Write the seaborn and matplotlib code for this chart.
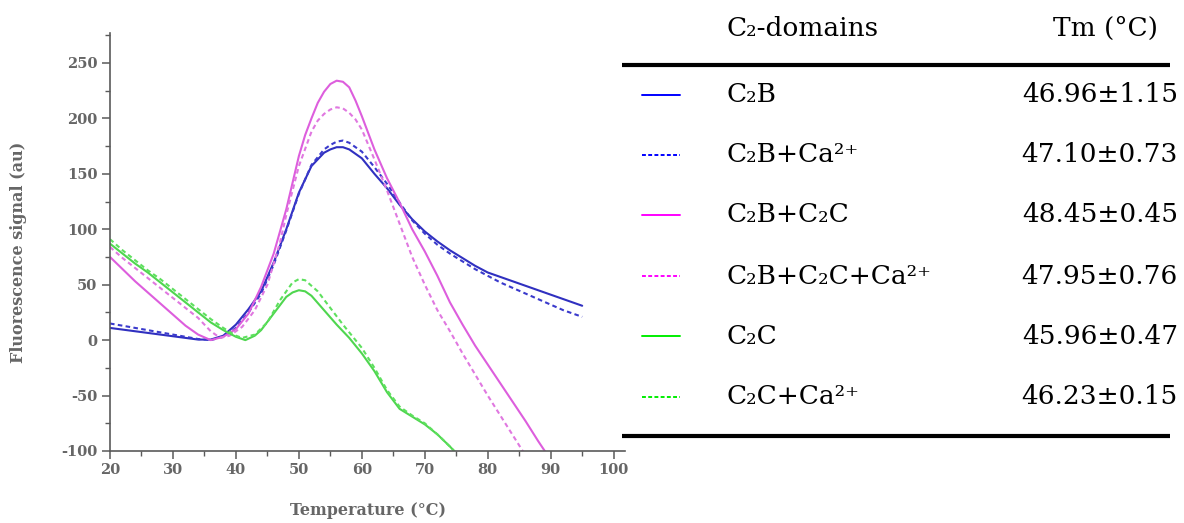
import numpy as np
import pandas as pd
import matplotlib
matplotlib.use("Agg")
import matplotlib.pyplot as plt
from matplotlib.lines import Line2D
from matplotlib.ticker import MultipleLocator
import seaborn as sns

# ---- melting curves (temperature in °C, fluorescence in au) ----
t_c2b = [20, 22, 24, 26, 28, 30, 32, 34, 36, 38, 40, 42, 44, 46, 48, 50, 52, 54, 55, 56,
         57, 58, 60, 62, 64, 66, 68, 70, 72, 74, 76, 78, 80, 82, 84, 86, 88, 90, 92, 95]
f_c2b = [11, 9.5, 8, 6.5, 5, 3.5, 2, 0.5, 0.5, 4, 14, 28, 44, 70, 100, 133, 157, 169, 172, 174,
         174, 172, 164, 150, 137, 122, 109, 98, 89, 81, 74, 67, 61, 57, 53, 49, 45, 41, 37, 31]

t_c2b_ca = t_c2b
f_c2b_ca = [15, 13, 11, 9, 7, 5, 3, 1, 0, 3, 11, 25, 42, 68, 99, 132, 158, 172, 176, 179,
            180, 178, 170, 156, 141, 124, 108, 96, 86, 78, 71, 64, 58, 52, 47, 42, 37, 32, 27, 21]

t_c2bc = [20, 22, 24, 26, 28, 30, 32, 34, 36, 38, 40, 42, 44, 46, 48, 50, 51, 52, 53, 54,
          55, 56, 57, 58, 59, 60, 62, 64, 66, 68, 70, 72, 74, 76, 78, 80, 82, 84, 86, 88, 90]
f_c2bc = [75, 64, 53, 43, 33, 23, 13, 5, 0, 3, 10, 24, 48, 78, 118, 166, 185, 200, 214, 224,
          231, 234, 233, 228, 216, 202, 172, 146, 124, 100, 80, 58, 34, 14, -5, -22, -39, -56,
          -73, -91, -108]

t_c2bc_ca = [20, 22, 24, 26, 28, 30, 32, 34, 36, 37.5, 39, 41, 43, 45, 47, 48, 50, 52, 53, 54,
             55, 56, 57, 58, 59, 60, 62, 64, 66, 68, 70, 72, 74, 76, 78, 80, 82, 84, 86]
f_c2bc_ca = [84, 74, 65, 56, 47, 38, 29, 20, 8, 2, 4, 12, 27, 50, 88, 113, 157, 188, 198, 204,
             208, 210, 209, 205, 199, 190, 163, 135, 105, 75, 50, 27, 8, -12, -31, -50, -68,
             -86, -104]

t_c2c = [20, 22, 24, 26, 28, 30, 32, 34, 36, 38, 40, 41.5, 43, 44, 46, 48, 49, 50, 51, 52,
         54, 56, 58, 60, 62, 64, 66, 68, 70, 72, 74, 76]
f_c2c = [87, 78, 69, 61, 52, 43, 34, 25, 16, 9, 3, 0, 4, 9, 24, 39, 43, 45, 44, 40,
         27, 14, 2, -12, -28, -47, -62, -69, -76, -85, -96, -108]

t_c2c_ca = [20, 22, 24, 26, 28, 30, 32, 34, 36, 38, 40, 41, 43, 45, 47, 49, 50, 51, 53, 55,
            57, 59, 60, 62, 64, 66, 68, 70, 72, 74, 76]
f_c2c_ca = [91, 81, 72, 63, 55, 46, 37, 28, 19, 11, 4, 2, 5, 16, 36, 52, 55, 54, 44, 29,
            14, 0, -7, -25, -45, -60, -68, -75, -85, -96, -108]

samples = ["C\u2082B", "C\u2082B+Ca\u00b2\u207a", "C\u2082B+C\u2082C",
           "C\u2082B+C\u2082C+Ca\u00b2\u207a", "C\u2082C", "C\u2082C+Ca\u00b2\u207a"]
tm_values = ["46.96\u00b11.15", "47.10\u00b10.73", "48.45\u00b10.45",
             "47.95\u00b10.76", "45.96\u00b10.47", "46.23\u00b10.15"]

curves = [(t_c2b, f_c2b), (t_c2b_ca, f_c2b_ca), (t_c2bc, f_c2bc),
          (t_c2bc_ca, f_c2bc_ca), (t_c2c, f_c2c), (t_c2c_ca, f_c2c_ca)]

x_ticks = [20, 30, 40, 50, 60, 70, 80, 90, 100]
y_ticks = [-100, -50, 0, 50, 100, 150, 200, 250]

# ---- styling ----
curve_colors = ["#3030c0", "#3a3acc", "#dd5edd", "#e078e0", "#4fd64f", "#5ee05e"]
key_colors = ["#0000ff", "#0000ff", "#ff00ff", "#ff00ff", "#00ee00", "#00ee00"]
is_dashed = [False, True, False, True, False, True]

frames = []
for name, (t, f) in zip(samples, curves):
    frames.append(pd.DataFrame({"Temperature": t, "Signal": f, "Sample": name}))
df = pd.concat(frames, ignore_index=True)

sns.set_theme(style="white")
plt.rcParams["font.family"] = ["DejaVu Serif", "DejaVu Sans"]
plt.rcParams["axes.unicode_minus"] = False

fig = plt.figure(figsize=(11.84, 5.23), dpi=100)
W, H = 1184, 523
ax = fig.add_axes([110 / W, 1 - 451 / H, (625 - 110) / W, (451 - 33) / H])

palette = dict(zip(samples, curve_colors))
dashes = {s: ((2.2, 1.6) if d else "") for s, d in zip(samples, is_dashed)}
sns.lineplot(data=df, x="Temperature", y="Signal", hue="Sample", style="Sample",
             palette=palette, dashes=dashes, sort=False, estimator=None,
             linewidth=1.5, legend=False, ax=ax)

ax.set_xlim(20, 101.8)
ax.set_ylim(-100, 277)
ax.set_xticks(x_ticks)
ax.set_yticks(y_ticks)
ax.xaxis.set_minor_locator(MultipleLocator(5))
ax.yaxis.set_minor_locator(MultipleLocator(25))

axis_grey = "#5a5a5a"
text_grey = "#666666"
for side in ["top", "right"]:
    ax.spines[side].set_visible(False)
for side in ["left", "bottom"]:
    ax.spines[side].set_color(axis_grey)
    ax.spines[side].set_linewidth(1.2)
ax.tick_params(axis="both", which="major", direction="out", length=6, width=1.1,
               color=axis_grey, labelcolor=text_grey, labelsize=10.5, pad=3,
               bottom=True, left=True)
ax.tick_params(axis="both", which="minor", direction="out", length=3.5, width=1.0,
               color=axis_grey, bottom=True, left=True)
for lab in ax.get_xticklabels() + ax.get_yticklabels():
    lab.set_fontweight("bold")

ax.set_xlabel("Temperature (\u00b0C)", fontsize=11.5, color=text_grey, fontweight="bold")
ax.set_ylabel("Fluorescence signal (au)", fontsize=11.5, color=text_grey, fontweight="bold")
ax.xaxis.set_label_coords((368 - 110) / 515, -(502 - 451) / 418)
ax.yaxis.set_label_coords((27 - 110) / 515, (451 - 252) / 418)

# ---- table of melting temperatures ----
def fx(px):
    return px / W

def fy(py):
    return 1 - py / H

table_fs = 19
fig.text(fx(727), fy(28), "C\u2082-domains", fontsize=table_fs, ha="left", va="center",
         color="black")
fig.text(fx(1158), fy(28), "Tm (\u00b0C)", fontsize=table_fs, ha="right", va="center",
         color="black")
for py in (65, 436):
    fig.add_artist(Line2D([fx(622), fx(1170)], [fy(py), fy(py)], transform=fig.transFigure,
                          color="black", linewidth=3.0, solid_capstyle="butt"))

row_y = [95, 155, 215, 276, 336, 397]
for py, name, tm, col, dsh in zip(row_y, samples, tm_values, key_colors, is_dashed):
    fig.add_artist(Line2D([fx(642), fx(680)], [fy(py), fy(py)], transform=fig.transFigure,
                          color=col, linewidth=1.4,
                          linestyle=(0, (2.0, 1.2)) if dsh else "-"))
    fig.text(fx(727), fy(py), name, fontsize=table_fs, ha="left", va="center", color="black")
    fig.text(fx(1178), fy(py), tm, fontsize=table_fs, ha="right", va="center", color="black")

fig.savefig("out.png", dpi=100, facecolor="white")
